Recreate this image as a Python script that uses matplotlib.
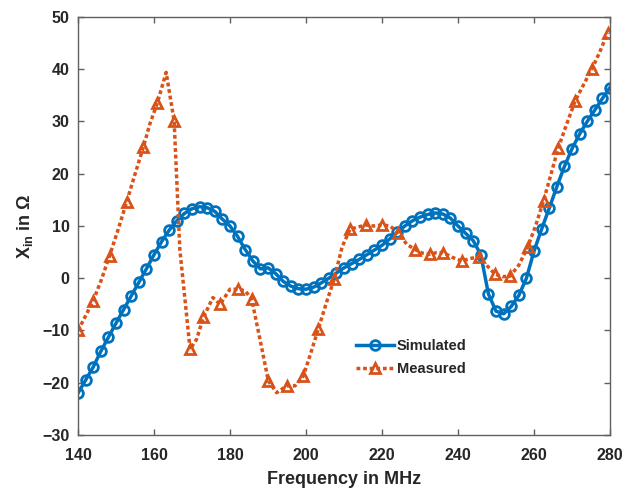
import matplotlib
matplotlib.use("Agg")
import matplotlib.pyplot as plt

plt.rcParams['font.family'] = ['Liberation Sans', 'DejaVu Sans']
plt.rcParams['font.weight'] = 'bold'
plt.rcParams['mathtext.fontset'] = 'custom'
plt.rcParams['mathtext.bf'] = 'Liberation Sans:bold'
plt.rcParams['mathtext.rm'] = 'Liberation Sans:bold'
plt.rcParams['mathtext.default'] = 'bf'

# simulated reactance (every 2 MHz)
sim_freq = list(range(140, 282, 2))
sim_x = [-22, -19.5, -17, -14, -11.3, -8.6, -6, -3.4, -0.8, 1.8,
         4.5, 7, 9.2, 11, 12.4, 13.3, 13.7, 13.5, 12.8, 11.3,
         10, 8, 5.5, 3.3, 1.8, 2.0, 0.9, -0.6, -1.5, -2,
         -2.1, -1.7, -0.9, 0, 1, 2, 2.8, 3.6, 4.5, 5.4,
         6.3, 7.5, 8.8, 10, 11, 11.7, 12.2, 12.5, 12.3, 11.5,
         10, 8.6, 7.2, 4.5, -3, -6.3, -6.8, -5.4, -3.3, 0,
         5.2, 9.4, 13.4, 17.5, 21.4, 24.8, 27.6, 30, 32.2, 34.4,
         36.5]

# measured reactance
meas_freq = [140, 142, 144, 146.2, 148.3, 150.6, 152.8, 155, 157.2, 158.9,
             160.9, 163.2, 165.3, 166.8, 169.5, 171.2, 173, 175.5, 177.4, 180,
             182.2, 184, 185.7, 187.9, 190.1, 192.3, 194.9, 197.1, 199.3, 201,
             203.2, 205.4, 207.4, 209.5, 211.6, 213.7, 215.7, 217.8, 219.9, 222.1,
             224.3, 226.5, 228.7, 230.6, 232.6, 234.4, 236.1, 238.5, 241, 243.2,
             245.4, 247.5, 249.7, 251.7, 253.7, 256, 258.3, 260.4, 262.5, 264.5,
             266.4, 268.6, 270.8, 273, 275.2, 277.3, 279.4]
meas_x = [-10, -7.2, -4.3, -0.2, 4.3, 9.4, 14.6, 19.9, 25.1, 29.5,
          33.6, 39.4, 30.1, 5.5, -13.6, -11.7, -7.5, -3.7, -5, -2.1,
          -2.1, -2.4, -4, -11.7, -19.7, -21.9, -20.6, -20.6, -18.7, -14.9,
          -9.8, -4.6, -0.2, 6, 9.4, 9.8, 10.2, 10, 10.2, 10,
          8.7, 6.5, 5.5, 4.8, 4.6, 4.9, 4.9, 4, 3.3, 3.8,
          4.0, 2.5, 0.8, 0.3, 0.4, 2.5, 5.9, 10, 14.8, 20,
          25, 29.5, 33.9, 37, 40, 43.3, 47]

blue = '#0072BD'
orange = '#D95319'
txt = '#262626'

fig = plt.figure(figsize=(6.33, 4.88), dpi=100)
ax = fig.add_axes([0.1232, 0.1086, 0.8405, 0.8566])

ax.plot(sim_freq, sim_x, '-', color=blue, lw=2.5, marker='o', ms=7,
        mfc='none', mew=2, label='Simulated')
ax.plot(meas_freq, meas_x, color=orange, lw=2.5, dashes=(1.1, 0.8),
        marker='^', ms=7.5, mfc='none', mew=2, markevery=2, label='Measured')

ax.set_xlim(140, 280)
ax.set_ylim(-30, 50)
ax.set_xticks(range(140, 281, 20))
ax.set_yticks(range(-30, 51, 10))
ax.tick_params(direction='in', top=True, right=True, length=4, width=1,
               labelsize=11.5, colors='#606060', labelcolor=txt, pad=6)
ax.tick_params(axis='x', pad=9)
for s in ax.spines.values():
    s.set_color('#606060')
    s.set_linewidth(1)

ax.set_xlabel('Frequency in MHz', fontsize=13, fontweight='bold', color=txt, labelpad=6)
ax.set_ylabel(r'X$_{in}$ in Ω', fontsize=13, fontweight='bold', color=txt, labelpad=5)

leg = ax.legend(loc='upper left', bbox_to_anchor=(0.511, 0.243), frameon=False,
                fontsize=10.5, handlelength=2.6, handletextpad=0.2,
                labelspacing=0.6, borderaxespad=0)
for t in leg.get_texts():
    t.set_color(txt)
    t.set_fontweight('bold')

fig.savefig('out.png', dpi=100)
